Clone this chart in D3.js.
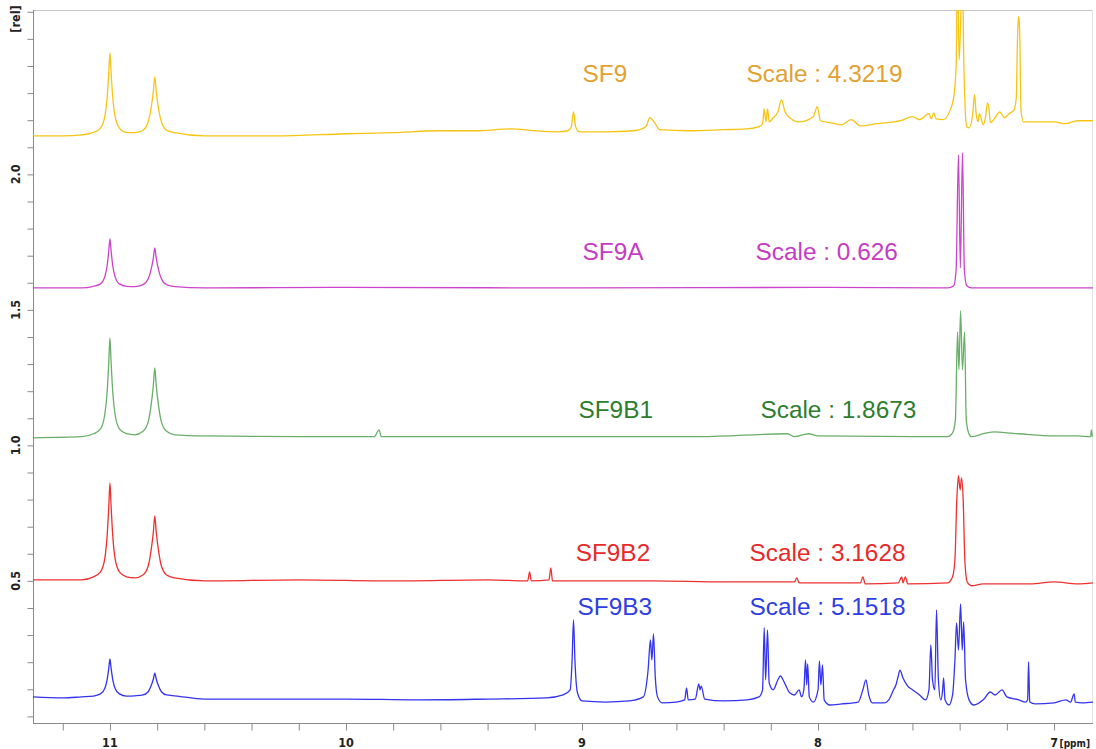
<!DOCTYPE html>
<html><head><meta charset="utf-8">
<script src="https://cdn.jsdelivr.net/npm/d3@7"></script>
<style>
html,body{margin:0;padding:0;background:#fff;}
svg{display:block;}
.tick-label{font-family:"Liberation Sans Narrow","DejaVu Sans Condensed","Liberation Sans",sans-serif;font-weight:bold;font-size:12.5px;fill:#222;}
.lab{font-family:"Liberation Sans",Arial,Helvetica,sans-serif;font-size:24.4px;}
</style></head>
<body>
<svg id="c" width="1096" height="749"></svg>
<script>
// ---------- DATA ----------
const names = ["SF9", "SF9A", "SF9B1", "SF9B2", "SF9B3"];
const scaleFactors = [4.3219, 0.626, 1.8673, 3.1628, 5.1518];
const xMajorTicks = [11, 10, 9, 8, 7];
const yMajorTicks = [0.5, 1.0, 1.5, 2.0];

// spectra: [ppm, rel]
const sf9 = [[11.33,2.142],[11.2,2.142],[11.12,2.146],
 [11.07,2.155],[11.04,2.171],[11.022,2.213],[11.012,2.283],[11.005,2.373],[11.0,2.449],[10.995,2.373],[10.988,2.283],[10.978,2.213],[10.96,2.171],[10.93,2.155],
 [10.895,2.154],[10.86,2.163],[10.838,2.194],[10.826,2.242],[10.816,2.307],[10.81,2.360],[10.804,2.307],[10.794,2.242],[10.782,2.194],[10.76,2.163],[10.725,2.154],
 [10.6,2.142],[10.3,2.142],[10.0,2.150],[9.8,2.154],[9.6,2.161],[9.45,2.161],[9.3,2.168],[9.2,2.161],[9.1,2.157],[9.06,2.161],[9.045,2.176],[9.036,2.231],[9.027,2.176],[9.01,2.157],
 [8.9,2.157],[8.78,2.161],[8.73,2.176],[8.712,2.209],[8.695,2.194],[8.67,2.165],[8.55,2.161],[8.4,2.165],[8.3,2.168],[8.25,2.176],[8.235,2.187],[8.228,2.242],[8.221,2.194],[8.214,2.242],[8.207,2.194],
 [8.19,2.209],[8.17,2.231],[8.155,2.275],[8.14,2.231],[8.12,2.209],[8.08,2.194],[8.02,2.213],[8.003,2.250],[7.99,2.198],[7.95,2.191],[7.9,2.183],[7.86,2.202],[7.82,2.179],[7.75,2.187],[7.65,2.198],
 [7.6,2.213],[7.57,2.202],[7.53,2.224],[7.52,2.205],[7.51,2.227],[7.50,2.205],[7.47,2.202],[7.44,2.238],[7.425,2.286],[7.415,2.40],[7.409,2.75],[7.402,2.423],[7.388,2.75],[7.382,2.40],[7.378,2.275],
 [7.37,2.176],[7.36,2.172],[7.345,2.220],[7.337,2.294],[7.33,2.224],[7.322,2.194],[7.316,2.224],[7.30,2.183],[7.29,2.213],[7.282,2.264],[7.275,2.238],[7.27,2.191],[7.25,2.209],[7.23,2.231],[7.21,2.209],
 [7.19,2.224],[7.17,2.238],[7.16,2.283],[7.155,2.497],[7.151,2.582],[7.148,2.570],[7.145,2.497],[7.14,2.238],[7.13,2.194],[7.0,2.194],[6.95,2.187],[6.9,2.198],[6.835,2.198]];

const sf9a = [[11.33,1.581],[11.12,1.581],
 [11.07,1.587],[11.04,1.596],[11.022,1.622],[11.012,1.662],[11.005,1.718],[11.0,1.762],[10.995,1.718],[10.988,1.662],[10.978,1.622],[10.96,1.596],[10.93,1.587],
 [10.895,1.586],[10.86,1.593],[10.838,1.615],[10.826,1.648],[10.816,1.692],[10.81,1.729],[10.804,1.692],[10.794,1.648],[10.782,1.615],[10.76,1.593],[10.725,1.586],
 [10.6,1.581],[10.0,1.583],[9.0,1.581],[8.0,1.583],[7.45,1.581],[7.425,1.589],[7.415,1.648],[7.405,2.072],[7.397,1.655],[7.388,2.080],[7.38,1.648],[7.37,1.589],[7.35,1.581],[6.835,1.581]];

const sf9b1 = [[11.33,1.028],[11.12,1.032],
 [11.07,1.043],[11.04,1.061],[11.022,1.113],[11.012,1.196],[11.005,1.305],[11.0,1.397],[10.995,1.305],[10.988,1.196],[10.978,1.113],[10.96,1.061],[10.93,1.043],
 [10.895,1.039],[10.86,1.052],[10.838,1.087],[10.826,1.146],[10.816,1.223],[10.81,1.286],[10.804,1.223],[10.794,1.146],[10.782,1.087],[10.76,1.052],[10.725,1.039],
 [10.6,1.035],[10.2,1.032],[9.88,1.032],[9.86,1.057],[9.85,1.032],[9.5,1.032],[9.0,1.032],[8.5,1.032],[8.13,1.043],[8.10,1.032],[8.04,1.043],[8.0,1.035],[7.6,1.032],[7.45,1.032],
 [7.43,1.046],[7.418,1.094],[7.409,1.419],[7.403,1.279],[7.396,1.497],[7.388,1.279],[7.379,1.419],[7.372,1.094],[7.362,1.046],[7.35,1.032],[7.3,1.043],[7.25,1.050],[7.2,1.046],[7.15,1.043],
 [7.0,1.035],[6.9,1.035],[6.845,1.032],[6.842,1.057],[6.838,1.032]];

const sf9b2 = [[11.33,0.504],[11.12,0.504],
 [11.07,0.515],[11.04,0.533],[11.022,0.581],[11.012,0.666],[11.005,0.773],[11.0,0.862],[10.995,0.773],[10.988,0.666],[10.978,0.581],[10.96,0.533],[10.93,0.515],
 [10.895,0.511],[10.86,0.522],[10.838,0.555],[10.826,0.611],[10.816,0.681],[10.81,0.740],[10.804,0.681],[10.794,0.611],[10.782,0.555],[10.76,0.522],[10.725,0.511],
 [10.6,0.500],[10.2,0.504],[9.8,0.500],[9.4,0.504],[9.23,0.500],[9.222,0.533],[9.215,0.500],[9.14,0.504],[9.132,0.548],[9.125,0.500],[9.0,0.500],[8.7,0.500],[8.4,0.496],[8.1,0.496],[8.09,0.511],[8.08,0.493],
 [7.82,0.493],[7.81,0.515],[7.80,0.489],[7.66,0.493],[7.645,0.515],[7.64,0.493],[7.63,0.515],[7.62,0.489],[7.45,0.493],[7.43,0.515],[7.42,0.578],[7.412,0.799],[7.405,0.888],[7.398,0.836],[7.392,0.880],
 [7.385,0.799],[7.378,0.578],[7.368,0.496],[7.35,0.482],[7.3,0.489],[7.1,0.489],[7.0,0.496],[6.9,0.489],[6.835,0.493]];

const sf9b3 = [[11.33,0.072],[11.2,0.068],[11.12,0.072],
 [11.07,0.075],[11.04,0.083],[11.022,0.103],[11.012,0.135],[11.005,0.177],[11.0,0.212],[10.995,0.177],[10.988,0.135],[10.978,0.103],[10.96,0.083],[10.93,0.075],
 [10.895,0.076],[10.86,0.079],[10.838,0.091],[10.826,0.112],[10.816,0.138],[10.81,0.160],[10.804,0.138],[10.794,0.112],[10.782,0.091],[10.76,0.079],[10.725,0.076],
 [10.6,0.064],[10.3,0.064],[10.0,0.064],[9.7,0.061],[9.4,0.064],[9.15,0.068],[9.08,0.079],[9.05,0.098],[9.042,0.208],[9.036,0.356],[9.03,0.208],[9.02,0.090],[9.0,0.057],
 [8.9,0.053],[8.8,0.057],[8.74,0.072],[8.72,0.171],[8.71,0.282],[8.704,0.208],[8.697,0.304],[8.69,0.153],[8.68,0.072],[8.66,0.050],[8.6,0.053],[8.565,0.061],[8.557,0.105],[8.55,0.061],
 [8.52,0.064],[8.505,0.120],[8.5,0.098],[8.495,0.112],[8.48,0.064],[8.4,0.057],[8.3,0.061],[8.25,0.072],[8.235,0.098],[8.228,0.327],[8.222,0.135],[8.214,0.319],[8.207,0.124],[8.19,0.098],
 [8.17,0.135],[8.16,0.149],[8.14,0.120],[8.12,0.087],[8.10,0.079],[8.08,0.098],[8.07,0.072],[8.06,0.098],[8.053,0.208],[8.048,0.116],[8.044,0.194],[8.037,0.072],[8.02,0.053],[8.0,0.098],
 [7.994,0.205],[7.988,0.116],[7.981,0.190],[7.974,0.061],[7.95,0.042],[7.9,0.046],[7.83,0.053],[7.81,0.098],[7.797,0.135],[7.785,0.079],[7.77,0.050],[7.72,0.050],[7.7,0.061],[7.68,0.098],
 [7.67,0.116],[7.66,0.149],[7.653,0.171],[7.64,0.142],[7.62,0.112],[7.6,0.098],[7.57,0.079],[7.545,0.061],[7.53,0.098],[7.522,0.264],[7.515,0.135],[7.505,0.098],[7.498,0.393],[7.49,0.135],
 [7.48,0.061],[7.472,0.098],[7.468,0.142],[7.462,0.061],[7.445,0.042],[7.43,0.079],[7.42,0.208],[7.413,0.345],[7.405,0.245],[7.396,0.415],[7.389,0.245],[7.383,0.349],[7.375,0.135],[7.36,0.061],
 [7.34,0.042],[7.3,0.061],[7.27,0.090],[7.25,0.079],[7.22,0.098],[7.2,0.072],[7.15,0.061],[7.12,0.053],[7.112,0.061],[7.108,0.201],[7.103,0.053],[7.08,0.046],[7.0,0.050],[6.95,0.061],
 [6.93,0.053],[6.915,0.083],[6.91,0.053],[6.88,0.050],[6.835,0.053]];

const spectra = [sf9, sf9a, sf9b1, sf9b2, sf9b3];

// ---------- LAYOUT / STYLE ----------
const lineColors = ["#f8c414", "#cc44cc", "#6aae6a", "#ee3030", "#3434ee"];
const textColors = ["#e2a232", "#c43cc4", "#2e7d2e", "#e62a2a", "#2e3ee2"];
const nameAt = [[8.998, 2.342], [8.998, 1.685], [9.015, 1.102], [9.027, 0.574], [9.019, 0.375]];
const scaleAt = [[8.303, 2.342], [8.265, 1.685], [8.244, 1.102], [8.290, 0.574], [8.290, 0.375]];

const L = 33, R = 1093, T = 10, B = 723;
const svg = d3.select("#c");
const x = d3.scaleLinear().domain([11.326, 6.835]).range([L, R]);
const y = d3.scaleLinear().domain([-0.0244, 2.6066]).range([B, T]);

svg.append("defs").append("clipPath").attr("id", "clip")
  .append("rect").attr("x", L).attr("y", T).attr("width", R - L).attr("height", B - T);

// frame
svg.append("line").attr("x1", L).attr("x2", R).attr("y1", T + 0.5).attr("y2", T + 0.5).attr("stroke", "#c4c4c4");
svg.append("line").attr("x1", R - 0.5).attr("x2", R - 0.5).attr("y1", T).attr("y2", B).attr("stroke", "#e4e4e4");

// axes
const xMinor = d3.range(0, 22).map(i => +(11.2 - i * 0.2).toFixed(1)).filter(v => v >= 6.9);
const xAxis = d3.axisBottom(x).tickValues(xMinor).tickSize(7).tickFormat("");
const gx = svg.append("g").attr("transform", `translate(0,${B + 0.5})`).call(xAxis);
gx.select(".domain").attr("stroke", "#8a8a8a").attr("d", `M${L},0H${R}`);
gx.selectAll(".tick line").attr("stroke", "#8a8a8a");

const yMinor = d3.range(0, 27).map(i => +(i * 0.1).toFixed(1));
const yAxis = d3.axisLeft(y).tickValues(yMinor).tickSize(6).tickFormat("");
const gy = svg.append("g").attr("transform", `translate(${L + 0.5},0)`).call(yAxis);
gy.select(".domain").attr("stroke", "#8a8a8a").attr("d", `M0,${T}V${B}`);
gy.selectAll(".tick line").attr("stroke", "#8a8a8a");

// tick labels
svg.selectAll(".xl").data(xMajorTicks).enter().append("text")
  .attr("class", "tick-label").attr("x", d => x(d)).attr("y", 747)
  .attr("text-anchor", "middle").text(d => d3.format("d")(d));
svg.append("text").attr("class", "tick-label").attr("x", x(7) + 5.5).attr("y", 747)
  .style("font-size", "10px").text("[ppm]");

svg.selectAll(".yl").data(yMajorTicks).enter().append("text")
  .attr("class", "tick-label")
  .attr("transform", d => `translate(20,${y(d)}) rotate(-90)`)
  .attr("text-anchor", "middle").text(d => d3.format(".1f")(d));
svg.append("text").attr("class", "tick-label")
  .attr("transform", `translate(20,${19}) rotate(-90)`)
  .attr("text-anchor", "middle").text("[rel]");

// spectra
const line = d3.line().x(d => x(d[0])).y(d => y(d[1])).curve(d3.curveMonotoneX);
const g = svg.append("g").attr("clip-path", "url(#clip)");
g.selectAll("path.spec").data(spectra).enter().append("path")
  .attr("class", "spec").attr("d", line)
  .attr("fill", "none").attr("stroke", (d, i) => lineColors[i])
  .attr("stroke-width", 1.3).attr("stroke-linejoin", "round");

// labels
svg.selectAll(".nm").data(names).enter().append("text")
  .attr("class", "lab").attr("x", (d, i) => x(nameAt[i][0])).attr("y", (d, i) => y(nameAt[i][1]))
  .attr("fill", (d, i) => textColors[i]).text(d => d);
svg.selectAll(".sc").data(scaleFactors).enter().append("text")
  .attr("class", "lab").attr("x", (d, i) => x(scaleAt[i][0])).attr("y", (d, i) => y(scaleAt[i][1]))
  .attr("fill", (d, i) => textColors[i]).text(d => "Scale : " + d);
</script>
</body></html>
